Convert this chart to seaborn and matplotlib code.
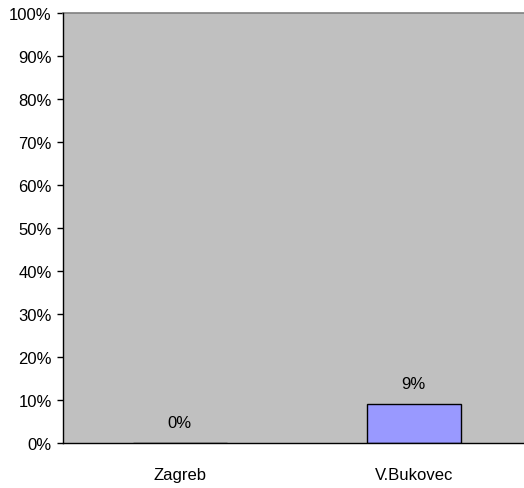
import matplotlib
matplotlib.use("Agg")
import matplotlib.pyplot as plt
import seaborn as sns
from matplotlib.ticker import FuncFormatter

# Data
towns = ['Zagreb', 'V.Bukovec']
shares = [0, 9]
share_labels = ['0%', '9%']

sns.set_style('white')
plt.rcParams['font.family'] = ['Liberation Sans', 'DejaVu Sans']

fig = plt.figure(figsize=(5.24, 4.89), dpi=100)
# plot area runs slightly past the right edge of the picture, as in the original
ax = fig.add_axes([0.120, 0.092, 0.893, 0.879])
ax.set_facecolor('#C0C0C0')

sns.barplot(x=towns, y=shares, ax=ax, color='#9999FF', width=0.4,
            edgecolor='black', linewidth=1, saturation=1)

# value labels above the bars
for i, (v, lab) in enumerate(zip(shares, share_labels)):
    ax.annotate(lab, (i, v), xytext=(0, 15), textcoords='offset points',
                ha='center', va='center', fontsize=12, color='black')

ax.set_ylim(0, 100)
ax.set_xlim(-0.5, 1.5)
ax.set_yticks(range(0, 101, 10))
ax.yaxis.set_major_formatter(FuncFormatter(lambda v, p: f'{int(v)}%'))
ax.set_xticks([0, 1])
ax.set_xticks([0.5], minor=True)
ax.tick_params(axis='x', which='major', length=0, pad=17.5, labelsize=12,
               labelcolor='black')
ax.tick_params(axis='x', which='minor', length=4, width=1, color='black', direction='out')
ax.tick_params(axis='y', length=4, width=1, color='black', direction='out',
               labelsize=12, labelcolor='black', left=True, pad=4)
ax.set_xlabel('')
ax.set_ylabel('')

for side in ['left', 'bottom']:
    ax.spines[side].set_color('black')
    ax.spines[side].set_linewidth(1)
    ax.spines[side].set_zorder(5)
ax.spines['top'].set_color('#808080')
ax.spines['top'].set_linewidth(1.2)
ax.spines['right'].set_visible(False)

fig.savefig('out.png', dpi=100)
